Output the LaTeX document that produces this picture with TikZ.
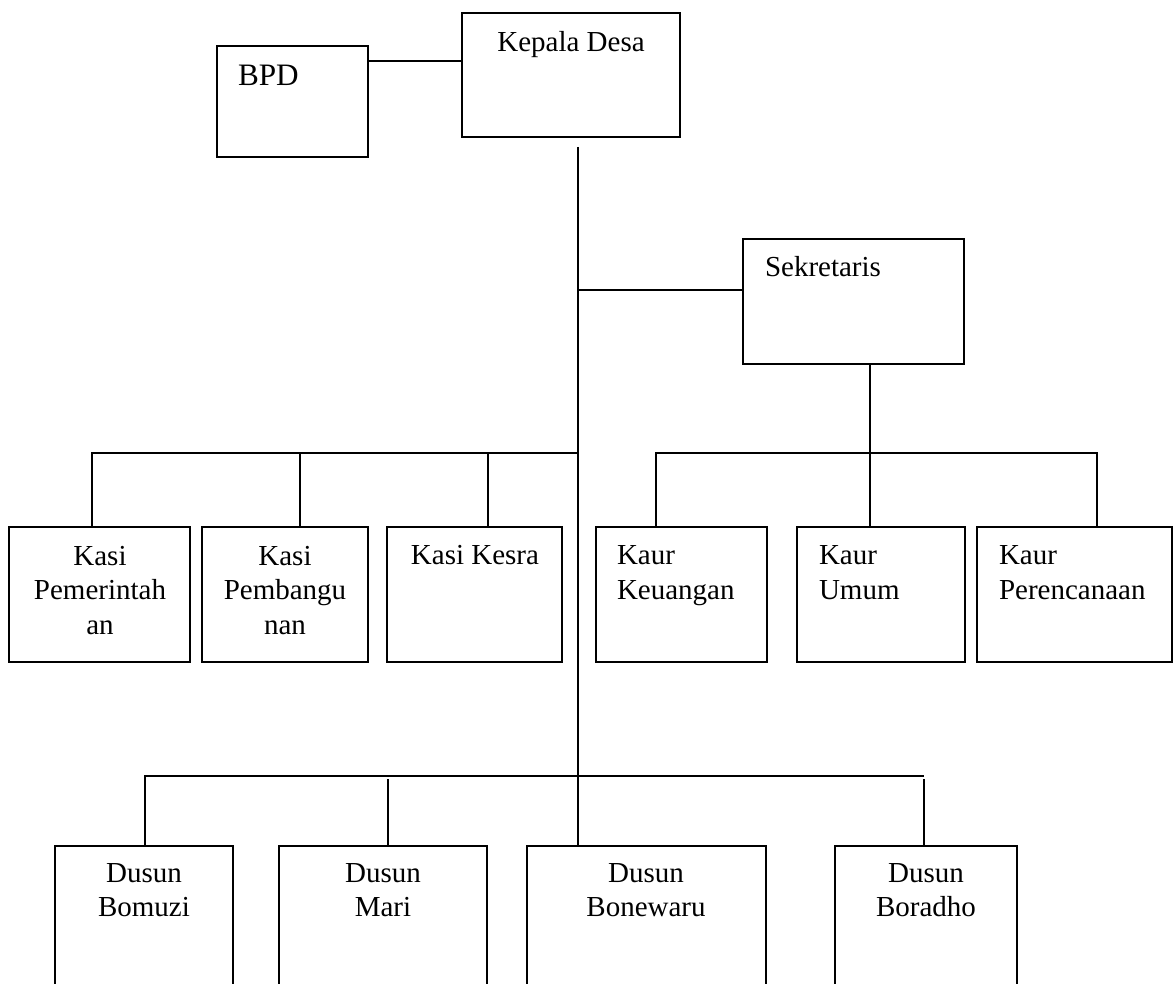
\documentclass[tikz,border=0pt]{standalone}
\usepackage{fontspec}
\setmainfont{Liberation Serif}
\newcommand\mystrut{\rule{0pt}{10.5pt}}
\begin{document}
\begin{tikzpicture}[x=0.5pt,y=-0.5pt,
  orgbox/.style 2 args={draw, line width=1pt, inner sep=0pt, outer sep=0pt, anchor=north west, minimum width=#1*0.5pt, minimum height=#2*0.5pt},
  link/.style={line width=1pt},
  lbl/.style={font=\fontsize{14.5}{17.25}\selectfont, inner sep=0pt, outer sep=0pt, align=center, anchor=north},
  lblL/.style={lbl, align=left, anchor=north west}]
\clip (0,0) rectangle (1174,984);
% boxes
\node[orgbox={151}{111}] (bpd) at (217,46) {};
\node[orgbox={218}{124}] (kd) at (462,13) {};
\node[orgbox={221}{125}] (sek) at (743,239) {};
\node[orgbox={181}{135}] (kasi1) at (9,527) {};
\node[orgbox={166}{135}] (kasi2) at (202,527) {};
\node[orgbox={175}{135}] (kasi3) at (387,527) {};
\node[orgbox={171}{135}] (kaur1) at (596,527) {};
\node[orgbox={168}{135}] (kaur2) at (797,527) {};
\node[orgbox={195}{135}] (kaur3) at (977,527) {};
\node[orgbox={178}{200}] (dus1) at (55,846) {};
\node[orgbox={208}{200}] (dus2) at (279,846) {};
\node[orgbox={239}{200}] (dus3) at (527,846) {};
\node[orgbox={182}{200}] (dus4) at (835,846) {};
% labels
\node[lblL, font=\fontsize{15.6}{18}\selectfont] (bpdt) at (238,65) {\mystrut BPD};
\node[lbl] (kdt) at (571,31) {\mystrut Kepala Desa};
\node[lblL] (sekt) at (765,256) {\mystrut Sekretaris};
\node[lbl] (kasi1t) at (100,544) {\mystrut Kasi\\Pemerintah\\an};
\node[lbl] (kasi2t) at (285,544) {\mystrut Kasi\\Pembangu\\nan};
\node[lbl] (kasi3t) at (475,544) {\mystrut Kasi Kesra};
\node[lblL] (kaur1t) at (617,544) {\mystrut Kaur\\Keuangan};
\node[lblL] (kaur2t) at (819,544) {\mystrut Kaur\\Umum};
\node[lblL] (kaur3t) at (999,544) {\mystrut Kaur\\Perencanaan};
\node[lbl] (dus1t) at (144,861) {\mystrut Dusun\\Bomuzi};
\node[lbl] (dus2t) at (383,861) {\mystrut Dusun\\Mari};
\node[lbl] (dus3t) at (646,861) {\mystrut Dusun\\Bonewaru};
\node[lbl] (dus4t) at (926,861) {\mystrut Dusun\\Boradho};
% connectors
\coordinate (bpdlink) at (368,61);
\draw[link] (bpdlink) -- (bpdlink -| kd.west);
\coordinate (t0) at (578,147);
\draw[link] (t0) -- (t0 |- dus3.north);
\coordinate (seklink) at (578,290);
\draw[link] (seklink) -- (seklink -| sek.west);
\coordinate (kasibar) at (578,453);
\coordinate (kd1) at (92,453);
\coordinate (kd2) at (300,453);
\coordinate (kd3) at (488,453);
\draw[link] (kasibar) -- (kd1) -- (kd1 |- kasi1.north);
\draw[link] (kd2) -- (kd2 |- kasi2.north);
\draw[link] (kd3) -- (kd3 |- kasi3.north);
\coordinate (sdrop) at (870,364);
\draw[link] (sdrop) -- (sdrop |- kaur2.north);
\coordinate (kr1) at (656,453);
\coordinate (kr3) at (1097,453);
\draw[link] (kr1 |- kaur1.north) -- (kr1) -- (kr3) -- (kr3 |- kaur3.north);
\coordinate (db1) at (145,776);
\coordinate (db4) at (924,776);
\coordinate (dm) at (388,779);
\coordinate (db4s) at (924,779);
\draw[link] (db1 |- dus1.north) -- (db1) -- (db4);
\draw[link] (dm) -- (dm |- dus2.north);
\draw[link] (db4s) -- (db4s |- dus4.north);
\end{tikzpicture}
\end{document}
